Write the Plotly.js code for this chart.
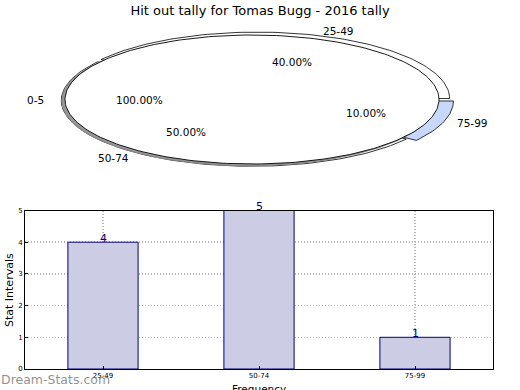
<!DOCTYPE html>
<html><head><meta charset="utf-8">
<script src="https://cdn.plot.ly/plotly-3.0.1.min.js"></script>
<style>html,body{margin:0;padding:0;background:#fff}#chart{width:520px;height:390px}</style>
</head><body><div id="chart"></div>
<script>
// ---- data ----
const categories = ["25-49", "50-74", "75-99"];
const counts = [4, 5, 1];
const pieLabels = ["0-5", "25-49", "50-74", "75-99"];
const pieFractions = [1.0, 0.4, 0.5, 0.1];
const piePctText = ["100.00%", "40.00%", "50.00%", "10.00%"];
const yTicks = [0, 1, 2, 3, 4, 5];

// ---- styles ----
const pieColors = ["#ffffff", "#ffffff", "#ffffff", "#c6d9fd"];
const pieExplode = [[0, 0], [0.027, 0.015], [0, -0.015], [0.037, -0.023]];
const pieScale = [1, 1.03, 1.02, 1.04];
const FONT = "DejaVu Sans, sans-serif";

// angles (degrees): first slice is the full pie, others accumulate from 0
const angles = [];
let cum = 0;
pieFractions.forEach((f, i) => {
  if (i === 0) { angles.push([0, 360 * f]); }
  else { angles.push([cum * 360, (cum + f) * 360]); cum += f; }
});

function wedge(i, full) {
  const [a0, a1] = angles[i];
  const [ox, oy] = pieExplode[i];
  const s = pieScale[i];
  const xs = [], ys = [];
  const n = Math.max(8, Math.round((a1 - a0) / 1.5));
  if (!full) { xs.push(ox); ys.push(oy); }
  for (let k = 0; k <= n; k++) {
    const a = (a0 + (a1 - a0) * k / n) * Math.PI / 180;
    xs.push(ox + s * Math.cos(a)); ys.push(oy + s * Math.sin(a));
  }
  if (!full) { xs.push(ox); ys.push(oy); }
  return {xs, ys};
}

const traces = [];
// exploded slices behind
[1, 2, 3].forEach(i => {
  const w = wedge(i, false);
  traces.push({type: "scatter", mode: "lines", x: w.xs, y: w.ys, fill: "toself",
    fillcolor: pieColors[i], line: {color: "#000", width: 0.8}, xaxis: "x2", yaxis: "y2",
    hoverinfo: "skip", showlegend: false});
});
// shadow of full pie
{
  const w = wedge(0, true);
  traces.push({type: "scatter", mode: "lines", x: w.xs.map(v => v - 0.016), y: w.ys.map(v => v - 0.025),
    fill: "toself", fillcolor: "#999", line: {color: "#888", width: 1.2}, xaxis: "x2", yaxis: "y2",
    hoverinfo: "skip", showlegend: false});
  traces.push({type: "scatter", mode: "lines", x: w.xs, y: w.ys, fill: "toself",
    fillcolor: pieColors[0], line: {color: "#000", width: 0.9}, xaxis: "x2", yaxis: "y2",
    hoverinfo: "skip", showlegend: false});
}

// bars
traces.push({type: "bar", x: categories, y: counts, width: 0.45,
  marker: {color: "#ccccE5", line: {color: "#000080", width: 1}}, hoverinfo: "skip", showlegend: false});

const annotations = [];
pieLabels.forEach((lab, i) => {
  const [a0, a1] = angles[i];
  const m = ((a0 + a1) / 2) * Math.PI / 180;
  const [ox, oy] = pieExplode[i];
  const c = Math.cos(m), s = Math.sin(m);
  annotations.push({xref: "x2", yref: "y2", x: ox + 1.1 * c, y: oy + 1.1 * s, text: lab, showarrow: false,
    xanchor: c > 0 ? "left" : "right", yanchor: "middle", font: {family: FONT, size: 10.5, color: "#000"}});
  annotations.push({xref: "x2", yref: "y2", x: ox + 0.6 * c, y: oy + 0.6 * s, text: piePctText[i], showarrow: false,
    xanchor: "center", yanchor: "middle", font: {family: FONT, size: 10.5, color: "#000"}});
});
categories.forEach((c, i) => {
  annotations.push({xref: "x", yref: "y", x: c, y: counts[i], text: String(counts[i]), showarrow: false,
    yanchor: "bottom", yshift: -5, font: {family: FONT, size: 11, color: "#000080"}});
});
// axis titles
annotations.push({xref: "paper", yref: "paper", x: 234 / 468, y: -20 / 369, xanchor: "center", yanchor: "middle",
  text: "Frequency", showarrow: false, font: {family: FONT, size: 10.5, color: "#000"}});
annotations.push({xref: "paper", yref: "paper", x: -16 / 468, y: (369 - 290) / 369, xanchor: "center", yanchor: "middle",
  text: "Stat Intervals", textangle: -90, showarrow: false, font: {family: FONT, size: 11, color: "#000"}});
// watermark
annotations.push({xref: "paper", yref: "paper", x: -26 / 468, y: -10.5 / 369, xanchor: "left", yanchor: "middle",
  text: "Dream-Stats.com", showarrow: false, font: {family: FONT, size: 12.5, color: "rgba(125,125,125,0.85)"}});

const layout = {
  width: 520, height: 390,
  margin: {l: 25, r: 27, t: 0, b: 21, pad: 0},
  paper_bgcolor: "#fff", plot_bgcolor: "#fff",
  font: {family: FONT, color: "#000"},
  title: {text: "Hit out tally for Tomas Bugg - 2016 tally", font: {family: FONT, size: 13, color: "#000"},
    xref: "container", yref: "container", x: 0.5, y: 1 - 10 / 390, xanchor: "center", yanchor: "middle"},
  xaxis: {domain: [0, 1], range: [-0.5, 2.5], type: "category", showline: true, mirror: true, linecolor: "#000",
    linewidth: 1, ticks: "inside", ticklen: 3, tickcolor: "#000", tickfont: {family: FONT, size: 7},
    showgrid: true, gridcolor: "#b8b8b8", griddash: "1px,2px", gridwidth: 1.5, zeroline: false, fixedrange: true,
    automargin: false},
  yaxis: {domain: [0, (369 - 210.5) / 369], range: [0, 5], tickvals: yTicks, showline: true, mirror: true,
    linecolor: "#000", linewidth: 1, ticks: "inside", ticklen: 3, tickcolor: "#000",
    tickfont: {family: FONT, size: 7}, showgrid: true, gridcolor: "#b8b8b8", griddash: "1px,2px", gridwidth: 1.5,
    zeroline: false, fixedrange: true, automargin: false},
  xaxis2: {domain: [0, 1], range: [(25 - 252) / 187, (493 - 252) / 187], anchor: "y2", visible: false, fixedrange: true},
  yaxis2: {domain: [0.5, 1], range: [(99.5 - 184.5) / 64.5, 99.5 / 64.5], anchor: "x2", visible: false, fixedrange: true},
  annotations: annotations,
  bargap: 0
};
Plotly.newPlot("chart", traces, layout, {displayModeBar: false, staticPlot: true});
</script></body></html>
